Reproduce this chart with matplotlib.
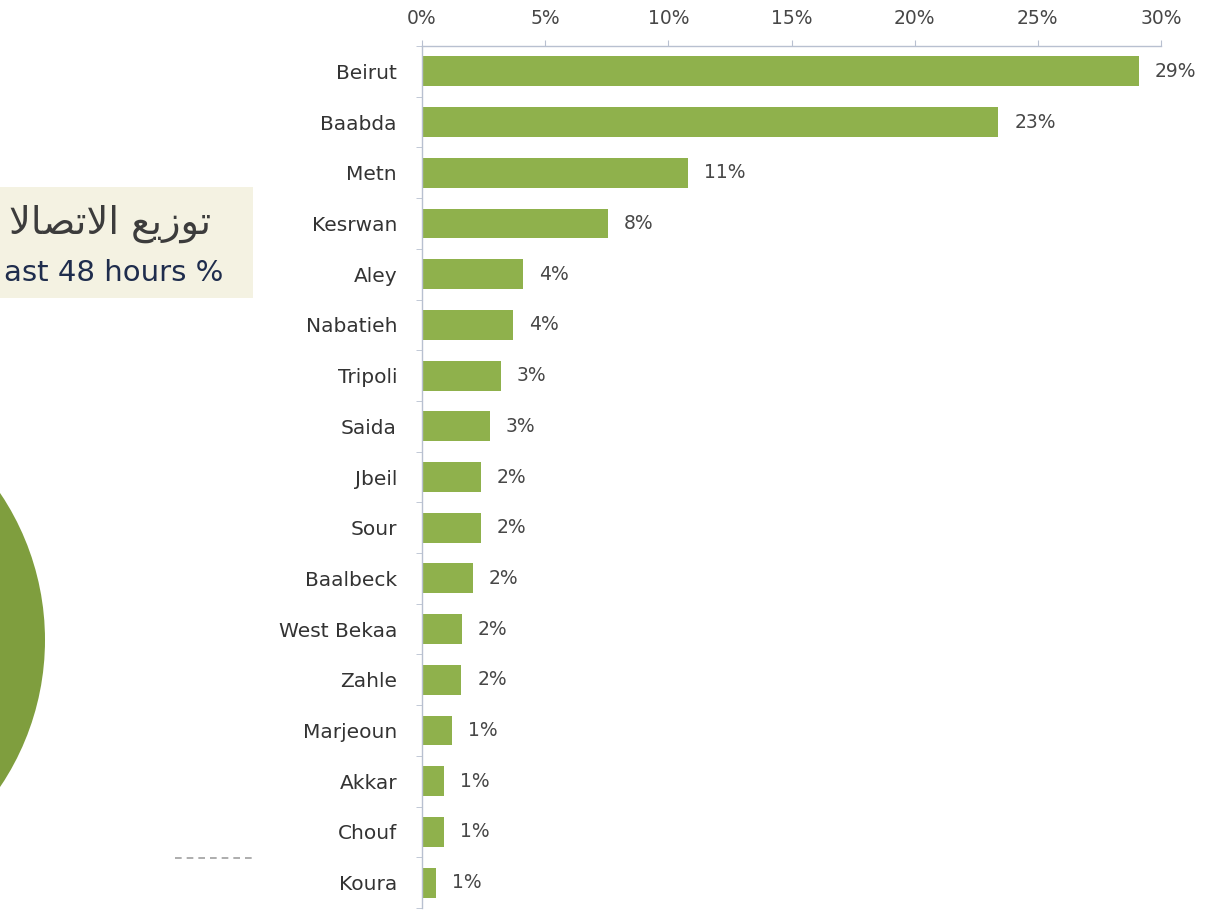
import matplotlib
matplotlib.use("Agg")
import matplotlib.pyplot as plt
from matplotlib.patches import Circle, Rectangle
from matplotlib.lines import Line2D

# ---------------- data ----------------
districts = ["Beirut", "Baabda", "Metn", "Kesrwan", "Aley", "Nabatieh", "Tripoli",
             "Saida", "Jbeil", "Sour", "Baalbeck", "West Bekaa", "Zahle",
             "Marjeoun", "Akkar", "Chouf", "Koura"]
shares = [29.1, 23.4, 10.8, 7.55, 4.1, 3.7, 3.2, 2.76, 2.4, 2.4, 2.07, 1.62, 1.6,
          1.2, 0.9, 0.9, 0.57]
share_labels = ["29%", "23%", "11%", "8%", "4%", "4%", "3%", "3%", "2%", "2%", "2%",
                "2%", "2%", "1%", "1%", "1%", "1%"]
x_ticks = [0, 5, 10, 15, 20, 25, 30]
x_tick_labels = ["0%", "5%", "10%", "15%", "20%", "25%", "30%"]
title_ar = "توزيع الاتصالا"
title_en = "ast 48 hours %"

# ------------- minimal Arabic shaping (presentation forms) -------------
FORMS = {  # isolated, final, initial, medial
    'ا': ('\uFE8D', '\uFE8E', None, None),
    'ت': ('\uFE95', '\uFE96', '\uFE97', '\uFE98'),
    'و': ('\uFEED', '\uFEEE', None, None),
    'ز': ('\uFEAF', '\uFEB0', None, None),
    'ي': ('\uFEF1', '\uFEF2', '\uFEF3', '\uFEF4'),
    'ع': ('\uFEC9', '\uFECA', '\uFECB', '\uFECC'),
    'ل': ('\uFEDD', '\uFEDE', '\uFEDF', '\uFEE0'),
    'ص': ('\uFEB9', '\uFEBA', '\uFEBB', '\uFEBC'),
}
LAMALEF = ('\uFEFB', '\uFEFC')


def shape_arabic(s):
    chars = []
    i = 0
    while i < len(s):
        if s[i] == 'ل' and i + 1 < len(s) and s[i + 1] == 'ا':
            chars.append('LA')
            i += 2
        else:
            chars.append(s[i])
            i += 1

    def joins_next(c):
        if c == 'LA':
            return False
        f = FORMS.get(c)
        return f is not None and f[2] is not None

    def joins_prev(c):
        return c == 'LA' or c in FORMS

    out = []
    for k, c in enumerate(chars):
        prev = chars[k - 1] if k > 0 else None
        nxt = chars[k + 1] if k + 1 < len(chars) else None
        jp = prev is not None and joins_next(prev) and joins_prev(c)
        jn = nxt is not None and joins_next(c) and joins_prev(nxt)
        if c == 'LA':
            out.append(LAMALEF[1] if jp else LAMALEF[0])
            continue
        if c not in FORMS:
            out.append(c)
            continue
        iso, fin, ini, med = FORMS[c]
        if jp and jn:
            out.append(med)
        elif jp:
            out.append(fin)
        elif jn:
            out.append(ini)
        else:
            out.append(iso)
    return ''.join(reversed(out))


# ---------------- figure ----------------
W, H = 1216, 913
fig = plt.figure(figsize=(W / 100, H / 100), dpi=100)
fig.patch.set_facecolor("white")

BAR = "#8fb14c"
SPINE = "#b8c0d0"
TXT = "#474747"
FONT = ["DejaVu Sans"]

# background decorations (cropped slide)
bg = fig.add_axes([0, 0, 1, 1])
bg.set_xlim(0, W)
bg.set_ylim(H, 0)
bg.axis("off")
bg.add_patch(Circle((-218, 640), 263, facecolor="#7f9e3e", edgecolor="none"))
bg.add_patch(Rectangle((-10, 187), 263, 111, facecolor="#f4f2e2", edgecolor="none"))
bg.text(211, 234, shape_arabic(title_ar), ha="right", va="baseline",
        fontsize=27.5, color="#3c3c3c", family=FONT)
bg.text(223, 281, title_en, ha="right", va="baseline",
        fontsize=21, color="#1f2d4d", family=FONT)
bg.add_line(Line2D([175, 252], [858, 858], color="#a0a0a0", lw=1.2,
                   linestyle=(0, (4, 3))))

# bar chart
left = 422 / W
right = 1161 / W
top = 1 - 46 / H
bottom = 1 - 908 / H
ax = fig.add_axes([left, bottom, right - left, top - bottom])
ax.set_facecolor("none")

y = list(range(len(districts)))
ax.barh(y, shares, height=0.59, color=BAR, edgecolor="none")
ax.set_ylim(len(districts) - 0.5, -0.5)
ax.set_xlim(0, 30)

for yi, v, lab in zip(y, shares, share_labels):
    ax.annotate(lab, (v, yi), xytext=(16, 0), textcoords="offset pixels",
                ha="left", va="center", fontsize=13.5, color=TXT, family=FONT)

ax.xaxis.tick_top()
ax.set_xticks(x_ticks)
ax.set_xticklabels(x_tick_labels, fontsize=13.5, color=TXT, family=FONT)
ax.tick_params(axis="x", direction="out", length=4, color=SPINE, pad=9)

ax.set_yticks(y)
ax.set_yticklabels(districts, fontsize=14.5, color="#333333", family=FONT)
ax.tick_params(axis="y", length=0, pad=18)
# category separator ticks on the left spine
ax.set_yticks([i + 0.5 for i in range(-1, len(districts))], minor=True)
ax.tick_params(axis="y", which="minor", direction="out", length=4.5, color=SPINE)

for s in ["right", "bottom"]:
    ax.spines[s].set_visible(False)
for s in ["left", "top"]:
    ax.spines[s].set_color(SPINE)
    ax.spines[s].set_linewidth(1.0)

fig.savefig("out.png", dpi=100, facecolor="white")
